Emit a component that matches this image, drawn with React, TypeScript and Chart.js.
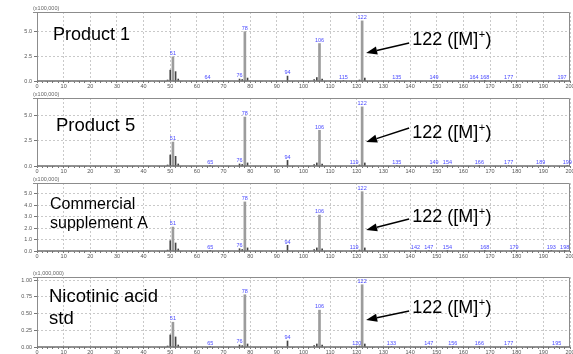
import React, { useEffect, useRef } from 'react';
import { Chart, registerables } from 'chart.js';
Chart.register(...registerables);

const FONT = '"Liberation Sans", Arial, Helvetica, sans-serif';

// x axis (m/z) labelled ticks
const xTickLabels = [0, 10, 20, 30, 40, 50, 60, 70, 80, 90, 100, 110, 120, 130, 140, 150, 160, 170, 180, 190, 200];
const xMinorStep = 2;

// y axis tick labels for each panel
const yTicks1 = [0, 2.5, 5.0];
const yTicks2 = [0, 2.5, 5.0];
const yTicks3 = [0, 1.0, 2.0, 3.0, 4.0, 5.0];
const yTicks4 = [0, 0.25, 0.5, 0.75, 1.0];

// main labelled peaks (m/z)
const mainMz = [51, 78, 106, 122];
// unlabelled isotope / fragment peaks (m/z)
const minorMz = [49, 50, 52, 53, 77, 79, 104, 105, 107, 121, 123];

// Panel 1: Product 1 (x100,000)
const p1Main = [2.45, 5.0, 3.8, 6.1];
const p1SmallMz = [64, 76, 94, 115, 135, 149, 164, 168, 177, 197];
const p1Small = [0.05, 0.2, 0.5, 0.05, 0.05, 0.05, 0.05, 0.05, 0.05, 0.05];
const p1Minor = [0.1, 1.1, 0.95, 0.2, 0.15, 0.3, 0.15, 0.35, 0.2, 0.1, 0.3];

// Panel 2: Product 5 (x100,000)
const p2Main = [2.35, 4.8, 3.5, 5.8];
const p2SmallMz = [65, 76, 94, 119, 135, 149, 154, 166, 177, 189, 199];
const p2Small = [0.05, 0.2, 0.55, 0.05, 0.05, 0.05, 0.05, 0.05, 0.05, 0.05, 0.05];
const p2Minor = [0.1, 1.08, 0.95, 0.2, 0.15, 0.3, 0.15, 0.3, 0.2, 0.1, 0.3];

// Panel 3: Commercial supplement A (x100,000)
const p3Main = [2.1, 4.3, 3.15, 5.2];
const p3SmallMz = [65, 76, 94, 119, 142, 147, 154, 168, 179, 193, 198];
const p3Small = [0.05, 0.2, 0.5, 0.05, 0.05, 0.05, 0.05, 0.05, 0.05, 0.05, 0.05];
const p3Minor = [0.08, 0.9, 0.7, 0.18, 0.13, 0.27, 0.13, 0.27, 0.18, 0.08, 0.27];

// Panel 4: Nicotinic acid std (x1,000,000)
const p4Main = [0.37, 0.78, 0.55, 0.93];
const p4SmallMz = [65, 76, 94, 120, 133, 147, 156, 166, 177, 195];
const p4Small = [0.008, 0.03, 0.09, 0.008, 0.008, 0.008, 0.008, 0.008, 0.008, 0.008];
const p4Minor = [0.015, 0.18, 0.15, 0.03, 0.02, 0.045, 0.02, 0.045, 0.03, 0.015, 0.045];

const molIonMz = 122;

type Panel = {
  top: number; padTop: number; plotH: number; bottomH: number;
  yMax: number; yTicks: number[]; dec: number; header: string;
  title: string[]; titleSize: number; titleDx: number; titleDy: number[];
  main: number[]; smallMz: number[]; small: number[]; minor: number[];
  arrow: { text: number; start: number; tip: number };
};

const panels: Panel[] = [
  { top: 0, padTop: 12, plotH: 69, bottomH: 11, yMax: 7.0, yTicks: yTicks1, dec: 1, header: '(x100,000)',
    title: ['Product 1'], titleSize: 18, titleDx: 16, titleDy: [23],
    main: p1Main, smallMz: p1SmallMz, small: p1Small, minor: p1Minor, arrow: { text: 28, start: 31, tip: 41 } },
  { top: 88, padTop: 10, plotH: 68, bottomH: 11, yMax: 6.67, yTicks: yTicks2, dec: 1, header: '(x100,000)',
    title: ['Product 5'], titleSize: 18.5, titleDx: 19, titleDy: [28],
    main: p2Main, smallMz: p2SmallMz, small: p2Small, minor: p2Minor, arrow: { text: 35, start: 30, tip: 44 } },
  { top: 173, padTop: 10, plotH: 68, bottomH: 11, yMax: 5.96, yTicks: yTicks3, dec: 1, header: '(x100,000)',
    title: ['Commercial', 'supplement A'], titleSize: 16, titleDx: 13, titleDy: [22, 41],
    main: p3Main, smallMz: p3SmallMz, small: p3Small, minor: p3Minor, arrow: { text: 34, start: 36, tip: 47 } },
  { top: 258, padTop: 19, plotH: 70, bottomH: 7, yMax: 1.045, yTicks: yTicks4, dec: 2, header: '(x1,000,000)',
    title: ['Nicotinic acid', 'std'], titleSize: 18.5, titleDx: 12, titleDy: [20, 42],
    main: p4Main, smallMz: p4SmallMz, small: p4Small, minor: p4Minor, arrow: { text: 31, start: 34, tip: 43 } },
];

function buildMinorTicks(): number[] {
  const out: number[] = [];
  const lo = xTickLabels[0];
  const hi = xTickLabels[xTickLabels.length - 1];
  for (let v = lo; v <= hi; v += xMinorStep) out.push(v);
  return out;
}

function overlay(p: Panel) {
  return {
    id: 'overlay',
    afterDatasetsDraw(chart: any) {
      const { ctx, chartArea: a, scales } = chart;
      const xs = scales.x;
      ctx.save();
      // frame
      ctx.strokeStyle = '#8c8c8c';
      ctx.lineWidth = 1;
      ctx.beginPath();
      ctx.moveTo(a.left - 4, a.top + 0.5);
      ctx.lineTo(a.right - 0.5, a.top + 0.5);
      ctx.lineTo(a.right - 0.5, a.bottom);
      ctx.moveTo(a.left + 0.5, a.top);
      ctx.lineTo(a.left + 0.5, a.bottom);
      ctx.stroke();
      ctx.strokeStyle = '#6e6e6e';
      ctx.lineWidth = 1.5;
      ctx.beginPath();
      ctx.moveTo(a.left, a.bottom);
      ctx.lineTo(a.right, a.bottom);
      ctx.stroke();

      // header
      ctx.fillStyle = '#666';
      ctx.font = `5.5px ${FONT}`;
      ctx.textAlign = 'left';
      ctx.textBaseline = 'bottom';
      ctx.fillText(p.header, a.left - 4, a.top - 0.5);

      // peak labels
      ctx.fillStyle = '#4a4aff';
      ctx.font = `5.5px ${FONT}`;
      ctx.textAlign = 'center';
      ctx.textBaseline = 'bottom';
      [0, 1].forEach((di) => {
        const meta = chart.getDatasetMeta(di);
        const ds = chart.data.datasets[di].data as any[];
        meta.data.forEach((el: any, i: number) => {
          ctx.fillText(String(ds[i].x), el.x, el.y - 0.5);
        });
      });

      // sample name
      ctx.fillStyle = '#000';
      ctx.font = `${p.titleSize}px ${FONT}`;
      ctx.textAlign = 'left';
      ctx.textBaseline = 'middle';
      p.title.forEach((t, i) => ctx.fillText(t, a.left + p.titleDx, a.top + p.titleDy[i]));

      // arrow + molecular ion label
      const px = xs.getPixelForValue(molIonMz);
      const tx = px + 4, ty = a.top + p.arrow.tip;
      const sx = px + 47, sy = a.top + p.arrow.start;
      const ang = Math.atan2(ty - sy, tx - sx);
      const hl = 11, hw = 4;
      const bx = tx - hl * Math.cos(ang), by = ty - hl * Math.sin(ang);
      ctx.strokeStyle = '#000';
      ctx.lineWidth = 1.4;
      ctx.beginPath();
      ctx.moveTo(sx, sy);
      ctx.lineTo(bx, by);
      ctx.stroke();
      const nx = -Math.sin(ang), ny = Math.cos(ang);
      ctx.beginPath();
      ctx.moveTo(tx, ty);
      ctx.lineTo(bx + nx * hw, by + ny * hw);
      ctx.lineTo(bx - nx * hw, by - ny * hw);
      ctx.closePath();
      ctx.fill();

      const lx = px + 50, ly = a.top + p.arrow.text;
      ctx.font = `18px ${FONT}`;
      const s1 = `${molIonMz} ([M]`;
      ctx.fillText(s1, lx, ly);
      let w = ctx.measureText(s1).width;
      ctx.font = `11px ${FONT}`;
      ctx.fillText('+', lx + w + 0.5, ly - 5);
      w += ctx.measureText('+').width + 1;
      ctx.font = `18px ${FONT}`;
      ctx.fillText(')', lx + w, ly);
      ctx.restore();
    },
  };
}

function PanelChart({ p }: { p: Panel }) {
  const ref = useRef<HTMLCanvasElement | null>(null);
  useEffect(() => {
    if (!ref.current) return;
    const minorTicks = buildMinorTicks();
    const chart = new Chart(ref.current, {
      type: 'bar',
      data: {
        datasets: [
          {
            data: mainMz.map((m, i) => ({ x: m, y: p.main[i] })),
            backgroundColor: '#9c9c9c',
            barThickness: 2,
            grouped: false,
          } as any,
          {
            data: p.smallMz.map((m, i) => ({ x: m, y: p.small[i] })),
            backgroundColor: '#444',
            barThickness: 1,
            grouped: false,
          } as any,
          {
            data: minorMz.map((m, i) => ({ x: m, y: p.minor[i] })),
            backgroundColor: '#444',
            barThickness: 1,
            grouped: false,
          } as any,
        ],
      },
      options: {
        animation: false,
        responsive: false,
        devicePixelRatio: 1,
        layout: { padding: { top: p.padTop, left: 0, right: 3, bottom: 0 } },
        plugins: { legend: { display: false }, tooltip: { enabled: false } },
        scales: {
          x: {
            type: 'linear',
            min: xTickLabels[0],
            max: xTickLabels[xTickLabels.length - 1],
            offset: false,
            afterBuildTicks: (s: any) => { s.ticks = minorTicks.map((v) => ({ value: v })); },
            afterFit: (s: any) => { s.height = p.bottomH; s.paddingLeft = 0; s.paddingRight = 0; },
            ticks: {
              autoSkip: false,
              maxRotation: 0,
              minRotation: 0,
              padding: 0,
              color: '#555',
              font: { size: 5.5, family: FONT },
              callback: (v: any) => (xTickLabels.includes(Number(v)) ? String(v) : ''),
            },
            grid: {
              offset: false,
              color: (c: any) => (c.tick && xTickLabels.includes(c.tick.value) ? '#c9c9c9' : 'rgba(0,0,0,0)'),
              tickColor: '#777',
              tickLength: 2,
              lineWidth: 1,
            },
            border: { display: false, dash: [2, 2] },
          },
          y: {
            type: 'linear',
            min: 0,
            max: p.yMax,
            afterBuildTicks: (s: any) => { s.ticks = p.yTicks.map((v) => ({ value: v })); },
            afterFit: (s: any) => { s.width = 37; s.paddingTop = 0; s.paddingBottom = 0; },
            ticks: {
              autoSkip: false,
              padding: 2,
              color: '#555',
              font: { size: 5.5, family: FONT },
              callback: (v: any) => Number(v).toFixed(p.dec),
            },
            grid: {
              color: '#c9c9c9',
              tickColor: '#777',
              tickLength: 3,
              lineWidth: 1,
            },
            border: { display: false, dash: [2, 2] },
          },
        },
      },
      plugins: [overlay(p)],
    } as any);
    return () => chart.destroy();
  }, [p]);
  const h = p.padTop + p.plotH + p.bottomH;
  return (
    <canvas
      ref={ref}
      width={573}
      height={h}
      style={{ position: 'absolute', left: 0, top: p.top, width: 573, height: h, display: 'block' }}
    />
  );
}

export default function App() {
  return (
    <div style={{ position: 'absolute', left: 0, top: 0, width: 573, height: 354, overflow: 'hidden', background: '#fff' }}>
      {panels.map((p, i) => (
        <PanelChart key={i} p={p} />
      ))}
    </div>
  );
}
